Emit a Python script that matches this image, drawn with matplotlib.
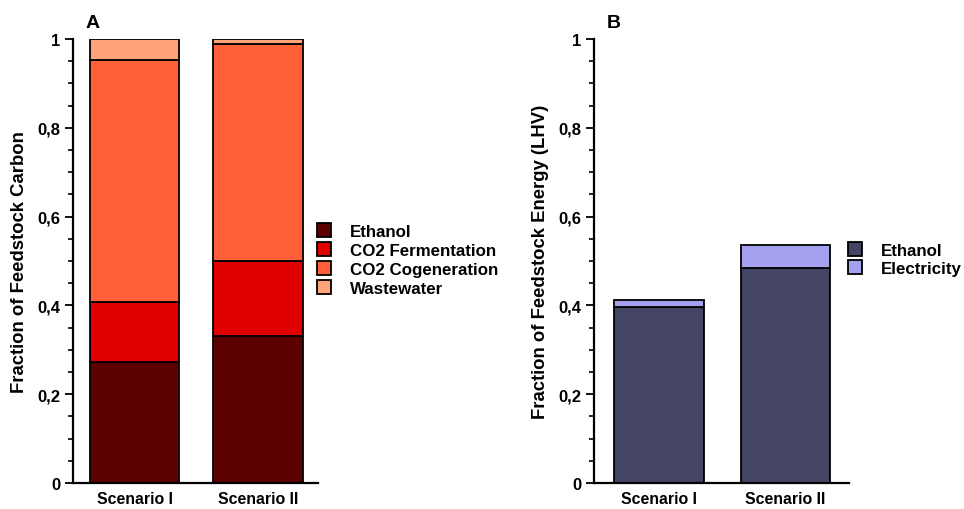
import matplotlib
matplotlib.use('Agg')
import matplotlib.pyplot as plt
from matplotlib.patches import Patch
import numpy as np

plt.rcParams['font.family'] = ['Liberation Sans', 'DejaVu Sans']
plt.rcParams['font.weight'] = 'bold'

# Data
scenarios = ['Scenario I', 'Scenario II']

carbon_labels = ['Ethanol', 'CO2 Fermentation', 'CO2 Cogeneration', 'Wastewater']
carbon_ethanol = [0.272, 0.332]
carbon_co2_ferm = [0.135, 0.168]
carbon_co2_cogen = [0.545, 0.488]
carbon_wastewater = [0.048, 0.012]
carbon_colors = ['#5c0000', '#e00000', '#ff6038', '#ffa47a']

energy_labels = ['Ethanol', 'Electricity']
energy_ethanol = [0.397, 0.484]
energy_electricity = [0.016, 0.052]
energy_colors = ['#444464', '#a4a2ee']

ytick_vals = [0, 0.2, 0.4, 0.6, 0.8, 1.0]
ytick_labels = ['0', '0,2', '0,4', '0,6', '0,8', '1']

W, H = 964, 510
fig = plt.figure(figsize=(W / 100, H / 100), dpi=100)


def fx(px):
    return px / W


def fy(py):
    return 1 - py / H


def style_axis(ax, xlim, ylabel):
    ax.set_xlim(*xlim)
    ax.set_ylim(0, 1)
    for s in ['top', 'right']:
        ax.spines[s].set_visible(False)
    for s in ['left', 'bottom']:
        ax.spines[s].set_linewidth(1.6)
    ax.set_yticks(ytick_vals)
    ax.set_yticklabels(ytick_labels, fontsize=12, fontweight='bold')
    ax.set_yticks(np.arange(0, 1.001, 0.05), minor=True)
    ax.tick_params(axis='y', which='major', length=6, width=1.3, pad=3)
    ax.tick_params(axis='y', which='minor', length=3.5, width=1.2)
    ax.set_xticks(range(len(scenarios)))
    ax.set_xticklabels(scenarios, fontsize=11.4, fontweight='bold')
    ax.tick_params(axis='x', length=0, pad=6)
    ax.set_ylabel(ylabel, fontsize=13.3, fontweight='bold', labelpad=7)


def stack(ax, series, colors, width):
    x = np.arange(len(scenarios))
    bottom = np.zeros(len(scenarios))
    for vals, c in zip(series, colors):
        ax.bar(x, vals, width, bottom=bottom, color=c, edgecolor='black', linewidth=1.3)
        bottom += np.array(vals)


# Panel A
axA = fig.add_axes([fx(73), fy(484), fx(318 - 73), fy(40) - fy(484)])
stack(axA, [carbon_ethanol, carbon_co2_ferm, carbon_co2_cogen, carbon_wastewater], carbon_colors, 0.725)
style_axis(axA, (-0.5, 1.486), 'Fraction of Feedstock Carbon')
axA.text(fx(86), fy(24), 'A', transform=fig.transFigure, fontsize=14, fontweight='bold', va='center')

handlesA = [Patch(facecolor=c, edgecolor='black', linewidth=1.3) for c in carbon_colors]
fig.legend(handlesA, carbon_labels, loc='upper left', bbox_to_anchor=(fx(317), fy(224)),
           frameon=False, fontsize=12.2, handlelength=0.85, handleheight=0.85,
           handletextpad=1.1, labelspacing=0.2, borderpad=0, borderaxespad=0)

# Panel B
axB = fig.add_axes([fx(594), fy(484), fx(849 - 594), fy(40) - fy(484)])
stack(axB, [energy_ethanol, energy_electricity], energy_colors, 0.707)
style_axis(axB, (-0.511, 1.5), 'Fraction of Feedstock Energy (LHV)')
axB.text(fx(607), fy(24), 'B', transform=fig.transFigure, fontsize=14, fontweight='bold', va='center')

handlesB = [Patch(facecolor=c, edgecolor='black', linewidth=1.3) for c in energy_colors]
fig.legend(handlesB, energy_labels, loc='upper left', bbox_to_anchor=(fx(848), fy(243)),
           frameon=False, fontsize=12.2, handlelength=0.85, handleheight=0.85,
           handletextpad=1.1, labelspacing=0.15, borderpad=0, borderaxespad=0)

fig.savefig('out.png', dpi=100, facecolor='white')
